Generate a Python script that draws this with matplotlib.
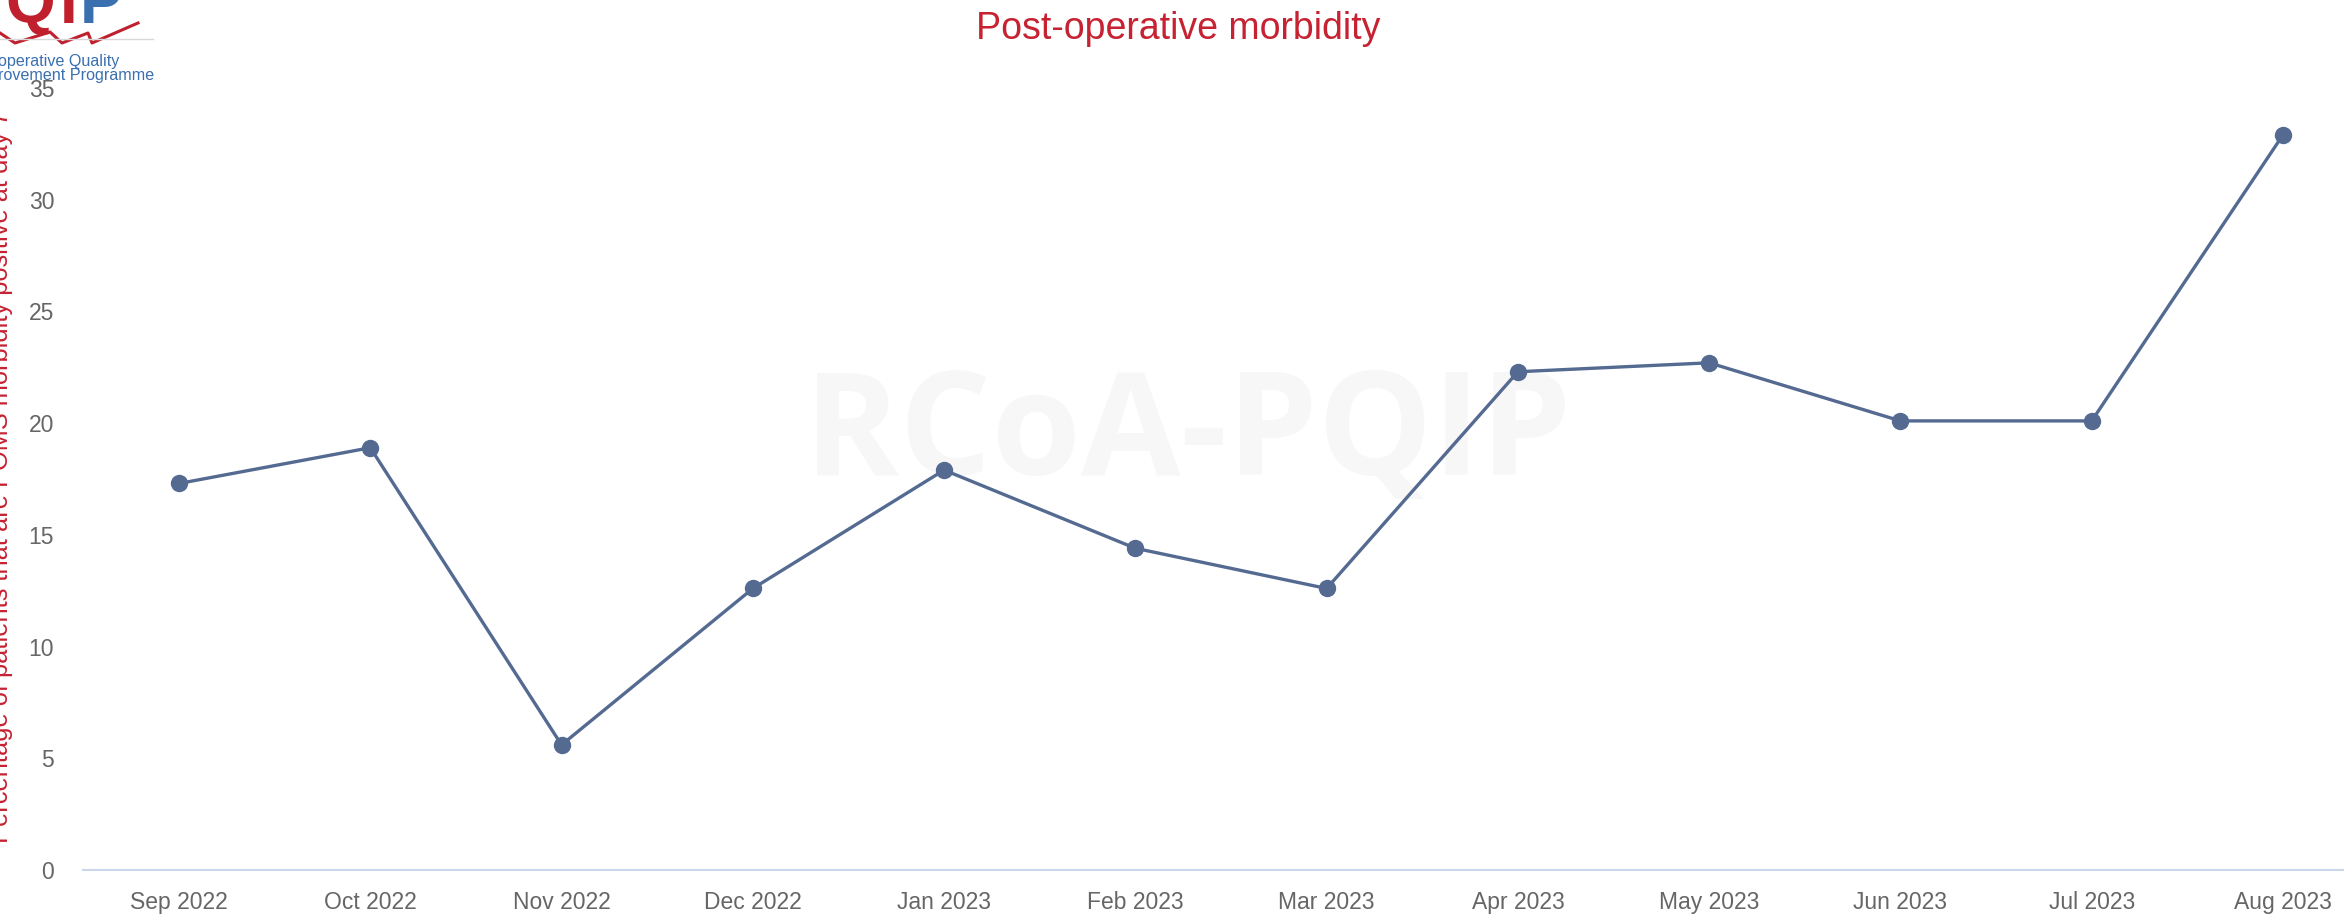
import matplotlib
matplotlib.use("Agg")
import matplotlib.pyplot as plt
from matplotlib.lines import Line2D

months = ["Sep 2022", "Oct 2022", "Nov 2022", "Dec 2022", "Jan 2023", "Feb 2023",
          "Mar 2023", "Apr 2023", "May 2023", "Jun 2023", "Jul 2023", "Aug 2023"]
values = [17.3, 18.9, 5.6, 12.6, 17.9, 14.4, 12.6, 22.3, 22.7, 20.1, 20.1, 32.9]
y_ticks = [0, 5, 10, 15, 20, 25, 30, 35]

title = "Post-operative morbidity"
y_label = "Percentage of patients that are POMS morbidity positive at day 7"

W, H = 2344, 919
DPI = 100
plt.rcParams['font.family'] = ['Liberation Sans', 'DejaVu Sans']

fig = plt.figure(figsize=(W / DPI, H / DPI), dpi=DPI)
fig.patch.set_facecolor("white")

ax_left, ax_right = 83.4, 2378.6
ax_top, ax_bottom = 88.0, 870.0
ax = fig.add_axes([ax_left / W, 1 - ax_bottom / H,
                   (ax_right - ax_left) / W, (ax_bottom - ax_top) / H])
ax.set_facecolor("none")

x = list(range(len(months)))
ax.plot(x, values, color="#546a91", lw=2.4, marker="o", markersize=11.5,
        markerfacecolor="#546a91", markeredgecolor="#546a91", zorder=3, clip_on=False)

ax.set_xlim(-0.5, len(months) - 0.5)
ax.set_ylim(0, 35)
ax.set_xticks(x)
ax.set_xticklabels(months)
ax.set_yticks(y_ticks)
ax.tick_params(axis="x", length=0, pad=15, labelsize=16.5, labelcolor="#666666")
ax.tick_params(axis="y", length=0, pad=21, labelsize=16.5, labelcolor="#666666")
for s in ["top", "right", "left"]:
    ax.spines[s].set_visible(False)
ax.spines["bottom"].set_color("#ccd6eb")
ax.spines["bottom"].set_linewidth(1.5)

# watermark
ax.text(1188 / W, 1 - 438 / H, "RCoA-PQIP", transform=fig.transFigure,
        ha="center", va="center", fontsize=104, fontweight="bold",
        family=["Open Sans", "DejaVu Sans"], color="#f7f7f7", zorder=0)

# title
fig.text(1178 / W, 1 - 29 / H, title, ha="center", va="center",
         fontsize=27, color="#c62232")

# y label (cut at left edge)
fig.text(1 / W, 1 - 477 / H, y_label, rotation=90, ha="center", va="center",
         fontsize=18.3, color="#c62232")

# logo fragments (top-left, cropped)
fig.text(55 / W, 1 - 23 / H, "Q", ha="right", va="baseline", fontsize=46,
         fontweight="bold", color="#c0202e")
fig.text(60 / W, 1 - 23 / H, "I", ha="left", va="baseline", fontsize=46,
         fontweight="bold", color="#c0202e")
fig.text(80 / W, 1 - 23 / H, "P", ha="left", va="baseline", fontsize=46,
         fontweight="bold", color="#3a6fb0")
zx = [0, 15, 50, 62, 88, 92, 138]
zy = [33, 43, 32, 43, 33, 43, 23]
fig.add_artist(Line2D([v / W for v in zx], [1 - v / H for v in zy],
                      transform=fig.transFigure, color="#c0202e", lw=2.2))
fig.add_artist(Line2D([0, 153 / W], [1 - 39 / H, 1 - 39 / H],
                      transform=fig.transFigure, color="#d8d8d8", lw=1))
fig.text(-2 / W, 1 - 66 / H, "operative Quality", ha="left", va="baseline",
         fontsize=11.6, color="#3a6fb0")
fig.text(-2 / W, 1 - 80 / H, "rovement Programme", ha="left", va="baseline",
         fontsize=11.6, color="#3a6fb0")

fig.savefig("out.png", dpi=DPI)
